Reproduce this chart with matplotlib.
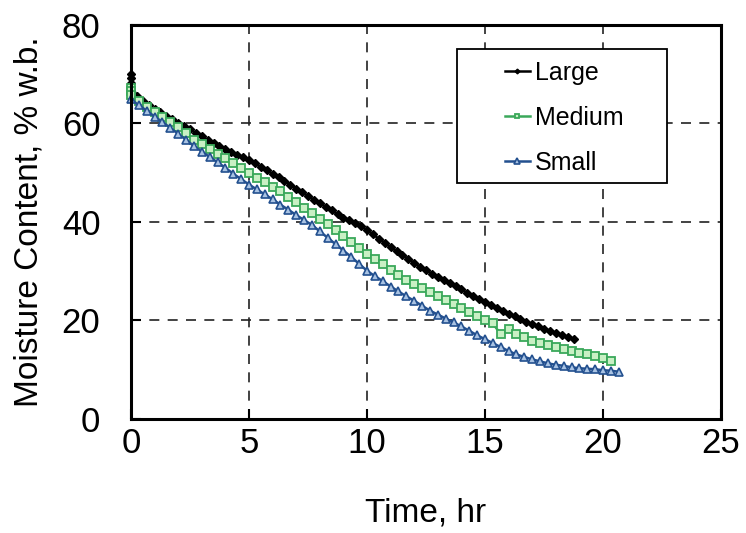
import matplotlib
matplotlib.use("Agg")
import matplotlib.pyplot as plt
from matplotlib.patches import Rectangle

plt.rcParams["font.family"] = ["Liberation Sans", "DejaVu Sans"]

# Large: time (hr) and moisture content (% w.b.)
large_time = [
    0, 0, 0,
    0.25, 0.5, 0.75, 1.0,
    1.25, 1.5, 1.75, 2.0,
    2.25, 2.5, 2.75, 3.0,
    3.25, 3.5, 3.75, 4.0,
    4.25, 4.5, 4.75, 5.0,
    5.25, 5.5, 5.75, 6.0,
    6.25, 6.5, 6.75, 7.0,
    7.25, 7.5, 7.75, 8.0,
    8.25, 8.5, 8.75, 9.0,
    9.25, 9.5, 9.75, 10.0,
    10.25, 10.5, 10.75, 11.0,
    11.25, 11.5, 11.75, 12.0,
    12.25, 12.5, 12.75, 13.0,
    13.25, 13.5, 13.75, 14.0,
    14.25, 14.5, 14.75, 15.0,
    15.25, 15.5, 15.75, 16.0,
    16.25, 16.5, 16.75, 17.0,
    17.25, 17.5, 17.75, 18.0,
    18.25, 18.5, 18.75,
]
large_mc = [
    70.0, 69.2, 68.3,
    65.5, 64.5, 63.7, 63.0,
    62.3, 61.6, 60.9, 60.2,
    59.5, 58.8, 58.1, 57.4,
    56.7, 56.0, 55.4, 54.8,
    54.3, 53.7, 53.1, 52.5,
    51.9, 51.2, 50.5, 49.8,
    49.2, 48.4, 47.6, 46.8,
    46.0, 45.3, 44.5, 43.8,
    43.1, 42.4, 41.6, 40.9,
    40.4, 39.8, 39.1, 38.4,
    37.5, 36.6, 35.8, 34.9,
    34.1, 33.3, 32.5, 31.7,
    30.9, 30.2, 29.5, 28.9,
    28.3, 27.6, 27.0, 26.3,
    25.6, 25.0, 24.4, 23.8,
    23.2, 22.6, 22.0, 21.4,
    20.9, 20.3, 19.7, 19.2,
    18.8, 18.3, 17.9, 17.5,
    17.1, 16.7, 16.3,
]

# Medium: time (min) and moisture content (% w.b.)
medium_min = [
    0, 0, 0,
    20, 40, 60, 80, 100, 120, 140, 160, 180,
    200, 220, 240, 260, 280, 300, 320, 340, 360,
    380, 400, 420, 440, 460, 480, 500, 520, 540,
    560, 580, 600, 620, 640, 660, 680, 700, 720,
    740, 760, 780, 800, 820, 840, 860, 880, 900,
    920, 940, 960, 980, 1000, 1020, 1040, 1060, 1080,
    1100, 1120, 1140, 1160, 1180, 1200, 1220,
]
medium_mc = [
    67.2, 66.5, 65.8,
    64.5, 63.3, 62.4, 61.4, 60.4, 59.2, 58.0, 56.7, 55.8,
    54.8, 53.8, 52.9, 51.9, 50.9, 49.9, 49.0, 48.1, 47.2,
    46.2, 45.1, 44.0, 42.9, 41.8, 40.6, 39.5, 38.4, 37.2,
    36.0, 34.8, 33.6, 32.5, 31.4, 30.3, 29.2, 28.3, 27.4,
    26.6, 25.7, 24.9, 24.1, 23.3, 22.5, 21.7, 21.0, 20.2,
    19.4, 17.2, 18.2, 17.3, 16.6, 15.9, 15.5, 15.1, 14.7,
    14.3, 13.9, 13.5, 13.1, 12.7, 12.3, 11.8,
]

# Small: time (min) and moisture content (% w.b.)
small_min = [
    0,
    20, 40, 60, 80, 100, 120, 140, 160, 180,
    200, 220, 240, 260, 280, 300, 320, 340, 360,
    380, 400, 420, 440, 460, 480, 500, 520, 540,
    560, 580, 600, 620, 640, 660, 680, 700, 720,
    740, 760, 780, 800, 820, 840, 860, 880, 900,
    920, 940, 960, 980, 1000, 1020, 1040, 1060, 1080,
    1100, 1120, 1140, 1160, 1180, 1200, 1220, 1240,
]
small_mc = [
    64.9,
    63.7, 62.6, 61.4, 60.3, 59.1, 57.9, 56.7, 55.4, 54.3,
    53.2, 52.1, 51.0, 49.8, 48.7, 47.6, 46.6, 45.6, 44.6,
    43.5, 42.5, 41.4, 40.4, 39.4, 38.1, 36.8, 35.5, 34.2,
    32.9, 31.5, 30.1, 29.0, 28.0, 26.9, 25.9, 24.9, 24.0,
    23.0, 22.0, 21.2, 20.4, 19.6, 18.8, 17.9, 17.0, 16.2,
    15.4, 14.6, 13.8, 13.1, 12.6, 12.1, 11.7, 11.3, 11.0,
    10.8, 10.5, 10.3, 10.2, 10.1, 9.9, 9.8, 9.6,
]

x_ticks = [0, 5, 10, 15, 20, 25]
y_ticks = [0, 20, 40, 60, 80]

medium_time = [m / 60 for m in medium_min]
small_time = [m / 60 for m in small_min]

fig = plt.figure(figsize=(7.46, 5.33), dpi=100)
ax = fig.add_axes([0.1756, 0.2139, 0.7909, 0.7392])

# Dashed grid at the inner ticks only
for xv in x_ticks[1:-1]:
    ax.axvline(xv, color="#222222", lw=1.2,
               linestyle=(0, (6, 5)), zorder=1)
for yv in y_ticks[1:-1]:
    ax.axhline(yv, color="#222222", lw=1.2,
               linestyle=(0, (6, 5)), zorder=1)

ax.plot(large_time, large_mc, color="black", lw=1.8,
        marker="D", ms=4, mfc="black", mec="black",
        label="Large", zorder=3, clip_on=False)
ax.plot(medium_time, medium_mc, color="#3aa85a", lw=1.8,
        marker="s", ms=6, mfc="#c9f0c4", mec="#3aa85a", mew=1.3,
        label="Medium", zorder=3, clip_on=False)
ax.plot(small_time, small_mc, color="#23508f", lw=1.8,
        marker="^", ms=6.2, mfc="#a9c3e3", mec="#23508f", mew=1.2,
        label="Small", zorder=3, clip_on=False)

ax.set_xlim(0, 25)
ax.set_ylim(0, 80)
ax.set_xticks(x_ticks)
ax.set_yticks(y_ticks)

for side in ["left", "bottom", "top", "right"]:
    ax.spines[side].set_linewidth(2.2)
    ax.spines[side].set_zorder(4)

ax.tick_params(axis="both", direction="in", length=7, width=1.5,
               labelsize=25)
ax.tick_params(axis="y", pad=22)
ax.tick_params(axis="x", pad=6)

ax.set_xlabel("Time, hr", fontsize=24)
ax.set_ylabel("Moisture Content, % w.b.", fontsize=24)
ax.xaxis.set_label_coords(0.5, -0.2)
ax.yaxis.set_label_coords(-0.146, 0.5)

# Legend box drawn separately so it can be wider than its content
box = Rectangle((0.5525, 0.599), 0.356, 0.34,
                transform=ax.transAxes, facecolor="white",
                edgecolor="black", lw=1.3, zorder=5)
ax.add_patch(box)
leg = ax.legend(loc="center left", bbox_to_anchor=(0.612, 0.764),
                frameon=False, fontsize=18, handlelength=1.0,
                handletextpad=0.2, labelspacing=0.85, borderpad=0,
                numpoints=1, markerscale=0.6)
leg.set_zorder(6)

fig.savefig("out.png", dpi=100)
